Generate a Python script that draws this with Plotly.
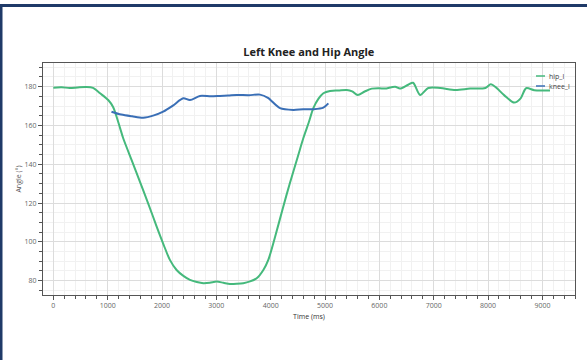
import plotly.graph_objects as go

# Hip angle samples (time in ms, angle in degrees)
hip_time = [0, 150, 300, 450, 600, 730, 860, 1010, 1100, 1164, 1230, 1286, 1450, 1600, 1750, 1900,
            2030, 2145, 2268, 2400, 2514, 2640, 2760, 2880, 3005, 3130, 3250, 3380, 3496, 3620,
            3742, 3865, 3956, 4080, 4225, 4350, 4500, 4600, 4700, 4785, 4880, 4969, 5092, 5245,
            5400, 5500, 5600, 5730, 5860, 6000, 6100, 6290, 6380, 6530, 6620, 6750, 6900, 7120,
            7400, 7670, 7950, 8050, 8150, 8300, 8480, 8600, 8700, 8850, 9000, 9140]
hip_angle = [179.5, 179.7, 179.3, 179.6, 179.8, 179.4, 176.6, 173.1, 169.5, 164.5, 158.5, 153.4,
             141.5, 130.5, 119.5, 108.0, 98.5, 90.7, 85.5, 82.3, 80.4, 79.3, 78.7, 78.9, 79.5,
             78.9, 78.3, 78.4, 78.7, 79.6, 81.2, 85.5, 90.7, 102.5, 117.5, 130.0, 144.0, 153.4,
             161.5, 168.9, 173.8, 176.6, 177.8, 178.0, 178.3, 177.6, 175.7, 177.5, 179.0, 179.2,
             179.0, 180.0, 179.0, 181.0, 182.0, 175.7, 179.3, 179.3, 178.3, 179.0, 179.3, 181.2,
             179.5, 175.5, 171.8, 174.0, 179.2, 178.2, 178.0, 178.0]

# Knee angle samples
knee_time = [1070, 1250, 1450, 1654, 1850, 2022, 2200, 2390, 2514, 2698, 2900, 3066, 3220, 3374,
             3600, 3803, 3950, 4171, 4416, 4600, 4785, 4969, 5061]
knee_angle = [167.1, 165.6, 164.7, 164.0, 165.2, 167.1, 170.2, 174.0, 173.1, 175.2, 175.0, 175.2,
              175.4, 175.7, 175.6, 175.9, 174.2, 168.9, 168.0, 168.4, 168.4, 169.2, 171.4]

series_names = ["hip_l", "knee_l"]
x_ticks = [0, 1000, 2000, 3000, 4000, 5000, 6000, 7000, 8000, 9000]
y_ticks = [80, 100, 120, 140, 160, 180]

HIP_COLOR = "#45b97c"
KNEE_COLOR = "#3a6fb6"
NAVY = "#1f3a68"
FONT = "Open Sans, Arial, sans-serif"

# Plot-area geometry in pixels (used for page decorations and the legend)
W, H = 587, 360
L, R, T, B = 43, 12, 63, 65
PW, PH = W - L - R, H - T - B


def px_x(p):
    return (p - L) / PW


def px_y(p):
    return (H - B - p) / PH


fig = go.Figure()
fig.add_trace(go.Scatter(x=hip_time, y=hip_angle, mode="lines", name=series_names[0],
                         line=dict(color=HIP_COLOR, width=2, shape="spline", smoothing=0.8)))
fig.add_trace(go.Scatter(x=knee_time, y=knee_angle, mode="lines", name=series_names[1],
                         line=dict(color=KNEE_COLOR, width=2, shape="spline", smoothing=0.8)))

axis_common = dict(
    showline=True, linecolor="#555", linewidth=1, mirror=True,
    ticks="outside", ticklen=4, tickcolor="#555",
    gridcolor="#dcdcdc", gridwidth=1, zeroline=False, automargin=False,
    tickfont=dict(family=FONT, size=7, color="#666"),
)

fig.update_xaxes(
    range=[-190, 9600], tickvals=x_ticks,
    minor=dict(dtick=200, ticks="outside", ticklen=3, tickcolor="#555",
               showgrid=True, gridcolor="#f1f1f1"),
    title=dict(text="Time (ms)", font=dict(family=FONT, size=7, color="#333"), standoff=4),
    **axis_common,
)
fig.update_yaxes(
    range=[72.6, 192.2], tickvals=y_ticks,
    minor=dict(dtick=5, ticks="outside", ticklen=3, tickcolor="#555",
               showgrid=True, gridcolor="#f1f1f1"),
    title=dict(text="Angle (°)", font=dict(family=FONT, size=7, color="#555"), standoff=2),
    **axis_common,
)

# Compact legend in the upper-right corner of the plot
legend_colors = [HIP_COLOR, KNEE_COLOR]
legend_rows = [76, 86]
shapes = [
    dict(type="rect", xref="paper", yref="paper", x0=px_x(0), x1=px_x(W),
         y0=px_y(7), y1=px_y(4), line_width=0, fillcolor=NAVY, layer="above"),
    dict(type="rect", xref="paper", yref="paper", x0=px_x(0), x1=px_x(2.5),
         y0=px_y(H), y1=px_y(4), line_width=0, fillcolor=NAVY, layer="above"),
]
annotations = []
for name, color, row in zip(series_names, legend_colors, legend_rows):
    shapes.append(dict(type="line", xref="paper", yref="paper",
                       x0=px_x(536), x1=px_x(545), y0=px_y(row), y1=px_y(row),
                       line=dict(color=color, width=1.5), layer="above"))
    annotations.append(dict(xref="paper", yref="paper", x=px_x(546.5), y=px_y(row),
                            xanchor="left", yanchor="middle", showarrow=False, text=name,
                            font=dict(family=FONT, size=7, color="#444")))

fig.update_layout(
    width=W, height=H,
    margin=dict(l=L, r=R, t=T, b=B),
    paper_bgcolor="white", plot_bgcolor="white",
    title=dict(text="<b>Left Knee and Hip Angle</b>", x=0.526, xanchor="center",
               y=1 - 52 / H, yanchor="middle",
               font=dict(family=FONT, size=11, color="#222")),
    showlegend=False,
    shapes=shapes,
    annotations=annotations,
)

fig.write_html("out.html")
